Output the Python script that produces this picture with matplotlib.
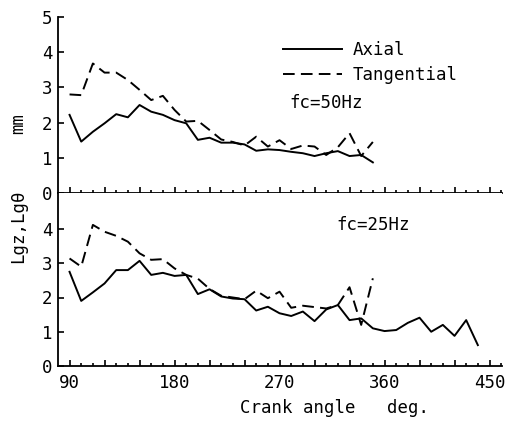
import matplotlib
matplotlib.use("Agg")
import matplotlib.pyplot as plt
from matplotlib.ticker import FixedLocator

W, H = 516, 421
FONT = "DejaVu Sans Mono"
FS = 12.5

# Crank angle sampling (deg)
angle_50 = list(range(90, 360, 10))
angle_25_axial = list(range(90, 450, 10))
angle_25_tang = list(range(90, 360, 10))

# fc = 50 Hz
axial_50 = [2.22, 1.46, 1.74, 1.98, 2.24, 2.15, 2.50, 2.31, 2.22, 2.07,
            1.98, 1.51, 1.57, 1.43, 1.43, 1.38, 1.20, 1.24, 1.22, 1.17,
            1.13, 1.05, 1.13, 1.19, 1.05, 1.08, 0.87]
tangential_50 = [2.80, 2.78, 3.68, 3.42, 3.42, 3.21, 2.93, 2.64, 2.76, 2.36,
                 2.03, 2.05, 1.79, 1.52, 1.45, 1.35, 1.60, 1.32, 1.50, 1.25,
                 1.35, 1.32, 1.08, 1.30, 1.70, 1.05, 1.45]

# fc = 25 Hz
axial_25 = [2.75, 1.90, 2.15, 2.41, 2.80, 2.80, 3.07, 2.66, 2.72, 2.63,
            2.66, 2.10, 2.24, 2.03, 1.97, 1.95, 1.62, 1.73, 1.54, 1.46,
            1.59, 1.31, 1.65, 1.78, 1.34, 1.39, 1.10, 1.02, 1.05, 1.26,
            1.41, 1.00, 1.20, 0.88, 1.34, 0.61]
tangential_25 = [3.14, 2.90, 4.12, 3.92, 3.80, 3.63, 3.29, 3.10, 3.12, 2.85,
                 2.66, 2.55, 2.25, 2.05, 2.00, 1.95, 2.20, 1.98, 2.17, 1.70,
                 1.76, 1.72, 1.68, 1.78, 2.30, 1.20, 2.56]

x_major = list(range(90, 451, 30))
x_minor = [a for a in range(90, 461, 10) if a % 30 != 0]


def fx(px):
    return px / W


def fy(py):
    return 1 - py / H


plt.rcParams["font.family"] = [FONT, "DejaVu Sans"]
plt.rcParams["font.size"] = FS

fig = plt.figure(figsize=(W / 100, H / 100), dpi=100)
ax_top = fig.add_axes([fx(58), fy(193), (502 - 58) / W, (193 - 17) / H])
ax_bot = fig.add_axes([fx(58), fy(366), (502 - 58) / W, (366 - 193) / H])

LW = 1.4
DASH = (0, (6, 3.2))

ax_top.plot(angle_50, axial_50, color="black", lw=LW, label="Axial")
ax_top.plot(angle_50, tangential_50, color="black", lw=LW, ls=DASH,
            label="Tangential")
ax_bot.plot(angle_25_axial, axial_25, color="black", lw=LW)
ax_bot.plot(angle_25_tang, tangential_25, color="black", lw=LW, ls=DASH)

for ax in (ax_top, ax_bot):
    ax.set_xlim(80.1, 460.7)
    for s in ("top", "right"):
        ax.spines[s].set_visible(False)
    for s in ("left", "bottom"):
        ax.spines[s].set_linewidth(1.3)
    ax.xaxis.set_major_locator(FixedLocator(x_major))
    ax.xaxis.set_minor_locator(FixedLocator(x_minor))
    ax.tick_params(axis="x", which="major", direction="in", length=4.5,
                   width=1.2, pad=6)
    ax.tick_params(axis="x", which="minor", direction="in", length=2.3,
                   width=1.2)
    ax.tick_params(axis="y", direction="in", length=4.5, width=1.2, pad=4,
                   labelsize=FS)

ax_top.set_ylim(0, 5)
ax_top.set_yticks([0, 1, 2, 3, 4, 5])
ax_top.tick_params(axis="x", labelbottom=False)

ax_bot.set_ylim(0, 173 / 34.25)
ax_bot.set_yticks([0, 1, 2, 3, 4])
ax_bot.set_xticklabels([str(a) if a % 90 == 0 else "" for a in x_major])
ax_bot.tick_params(axis="x", labelsize=FS)

leg = ax_top.legend(loc="upper left", bbox_to_anchor=(fx(283), fy(41)),
                    bbox_transform=fig.transFigure, frameon=False,
                    handlelength=3.4, handletextpad=0.6, labelspacing=0.38,
                    borderpad=0, borderaxespad=0, fontsize=FS)

fig.text(fx(326), fy(103.5), "fc=50Hz", ha="center", va="center", fontsize=FS)
fig.text(fx(373), fy(225), "fc=25Hz", ha="center", va="center", fontsize=FS)

fig.text(fx(18), fy(124), "mm", rotation=90, ha="center", va="center",
         fontsize=FS)
fig.text(fx(18), fy(226), "Lgz,Lg\u03b8", rotation=90, ha="center",
         va="center", fontsize=FS)
fig.text(fx(335), fy(408), "Crank angle   deg.", ha="center", va="center",
         fontsize=FS)

fig.savefig("out.png", dpi=100)
